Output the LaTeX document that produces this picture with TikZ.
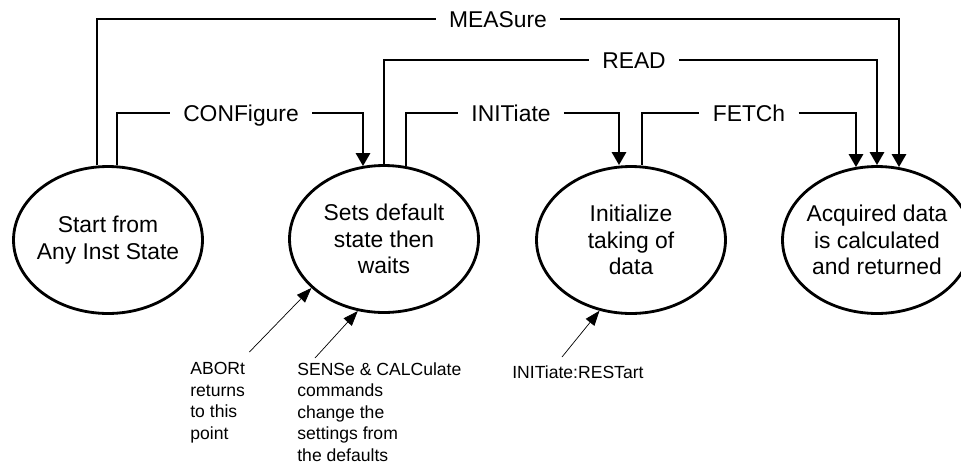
\documentclass[tikz,border=0pt]{standalone}
\usepackage{fontspec}
\setmainfont{Liberation Sans}
\usetikzlibrary{positioning,calc,shapes.geometric,arrows.meta}
\tikzstyle{diagram} = [x = 0.02cm, y = -0.02cm]
\tikzstyle{stateStyle} = [draw, ellipse, line width=1.6pt, minimum width=3.78cm, minimum height=2.94cm, inner sep=0pt]
\tikzstyle{stateText} = [align=center, inner sep=0pt, font=\fontsize{13}{15}\selectfont]
\tikzstyle{commandText} = [inner xsep=.26cm, inner ysep=0pt, text height=9.3pt, text depth=0pt, font=\fontsize{13}{15}\selectfont]
\tikzstyle{commandLine} = [line width=1.6pt]
\tikzstyle{commandArrow} = [-{Triangle[length=.26cm, width=.28cm]}]
\tikzstyle{noteText} = [inner sep=0pt, align=left, font=\fontsize{10}{12.3}\selectfont]
\tikzstyle{noteArrow} = [thin, -{Triangle[length=.3cm, width=.22cm]}]
\newcommand{\commandPath}[5]{
  \draw [commandLine] ($(#1.north)+(#2)$) |- (#3.west);
  \draw [commandLine, commandArrow] (#3.east) -| ($(#4.north)+(#5)$);
}

\begin{document}
\begin{tikzpicture}[diagram]
        \useasboundingbox (0,0) rectangle (961,471);

        \node [stateStyle] (startState) at (108,240) {};
        \node [stateStyle] (defaultState) at (384,239) {};
        \node [stateStyle] (initState) at (631,240) {};
        \node [stateStyle] (acquiredState) at (877,240) {};
        \node [stateText] (startText) at (startState.center) {Start from\\Any Inst State};
        \node [stateText] (defaultText) at (defaultState.center) {Sets default\\state then\\waits};
        \node [stateText] (initText) at (initState.center) {Initialize\\taking of\\data};
        \node [stateText] (acquiredText) at (acquiredState.center) {Acquired data\\is calculated\\and returned};

        \node [commandText] (measureLabel) at (498,19) {MEASure};
        \node [commandText] (readLabel) at (634,60) {READ};
        \node [commandText] (configureLabel) at (241,113) {CONFigure};
        \node [commandText] (initiateLabel) at (511,113) {INITiate\hspace{.34cm}};
        \node [commandText] (fetchLabel) at (749,113) {FETCh};

        \commandPath{startState}{-11,0}{measureLabel}{acquiredState}{22,2}
        \commandPath{defaultState}{0,0}{readLabel}{acquiredState}{0,0}
        \commandPath{startState}{9,0}{configureLabel}{defaultState}{-21,2}
        \commandPath{defaultState}{22,2}{initiateLabel}{initState}{-12,0}
        \commandPath{initState}{11,0}{fetchLabel}{acquiredState}{-21,2}

        \node [noteText, anchor=north west] (abortNote) at (190,362) {ABORt\\returns\\to this\\point};
        \node [noteText, anchor=north west] (senseNote) at (297,362) {SENSe \& CALCulate\\commands\\change the\\settings from\\the defaults};
        \node [noteText, anchor=north west] (restartNote) at (512,365) {INITiate:RESTart};

        \draw [noteArrow] ($(abortNote.north east)+(4,-10)$) -- (defaultState.214);
        \draw [noteArrow] ($(senseNote.north west)+(18,-4)$) -- (defaultState.250);
        \draw [noteArrow] ($(restartNote.north west)+(50,-8)$) -- (initState.246);
      \end{tikzpicture}
\end{document}
